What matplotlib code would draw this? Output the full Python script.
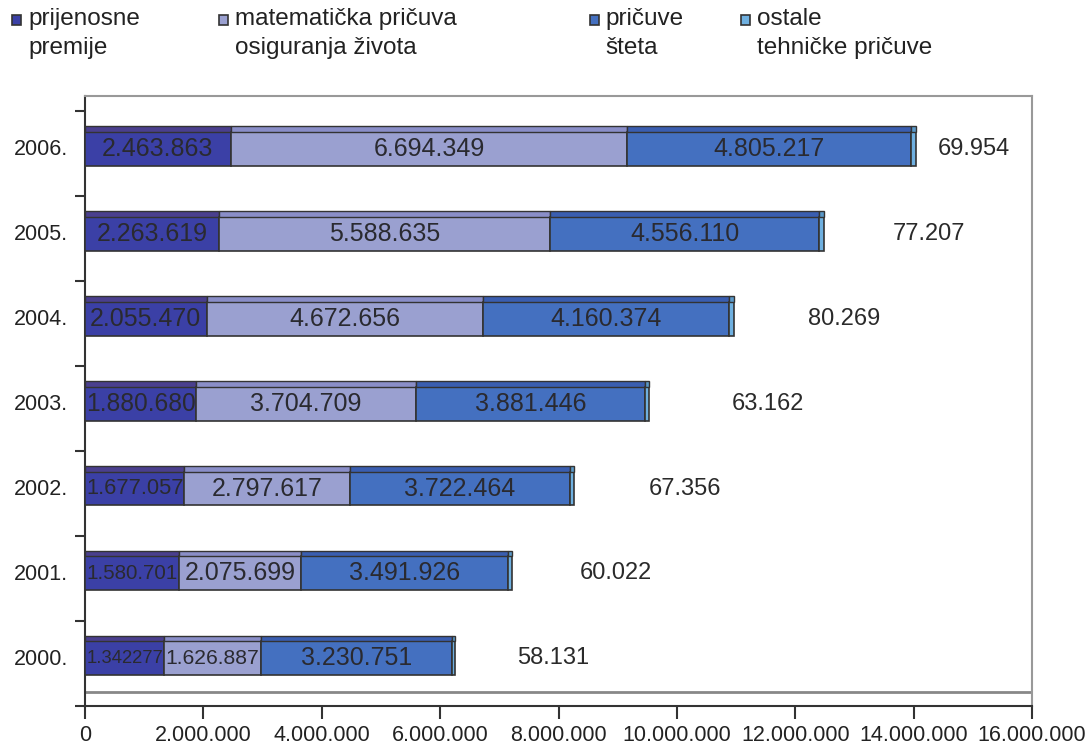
import matplotlib
matplotlib.use("Agg")
import matplotlib.pyplot as plt
from matplotlib.patches import Rectangle
import numpy as np

plt.rcParams['font.family'] = ['Liberation Sans', 'DejaVu Sans']

years = ["2000.", "2001.", "2002.", "2003.", "2004.", "2005.", "2006."]
prijenosne_premije = [1342277, 1580701, 1677057, 1880680, 2055470, 2263619, 2463863]
matematicka_pricuva = [1626887, 2075699, 2797617, 3704709, 4672656, 5588635, 6694349]
pricuve_steta = [3230751, 3491926, 3722464, 3881446, 4160374, 4556110, 4805217]
ostale_pricuve = [58131, 60022, 67356, 63162, 80269, 77207, 69954]

prijenosne_labels = ["1.342277", "1.580.701", "1.677.057", "1.880.680", "2.055.470", "2.263.619", "2.463.863"]
matematicka_labels = ["1.626.887", "2.075.699", "2.797.617", "3.704.709", "4.672.656", "5.588.635", "6.694.349"]
steta_labels = ["3.230.751", "3.491.926", "3.722.464", "3.881.446", "4.160.374", "4.556.110", "4.805.217"]
ostale_labels = ["58.131", "60.022", "67.356", "63.162", "80.269", "77.207", "69.954"]
# left edge of the "ostale" value labels (data units)
ostale_label_x = [7.30e6, 8.36e6, 9.53e6, 10.93e6, 12.21e6, 13.65e6, 14.41e6]

legend_names = ["prijenosne\npremije", "matematička pričuva\nosiguranja života",
                "pričuve\nšteta", "ostale\ntehničke pričuve"]
colors = ["#3b40a6", "#9aa0d0", "#4470c0", "#6fb0e0"]
strip_colors = ["#4a3f8e", "#8a8ec8", "#3a5eb0", "#5a98c8"]
xticks = np.arange(0, 16000001, 2000000)
xtick_labels = ["0", "2.000.000", "4.000.000", "6.000.000", "8.000.000",
                "10.000.000", "12.000.000", "14.000.000", "16.000.000"]

W, H = 1086, 754
fig = plt.figure(figsize=(W / 100, H / 100), dpi=100)
ax = fig.add_axes([85 / W, 1 - 706 / H, (1032 - 85) / W, (706 - 96) / H])
XMAX = 16000000
px_per_unit = (1032 - 85) / XMAX

series = [prijenosne_premije, matematicka_pricuva, pricuve_steta, ostale_pricuve]
y = np.arange(len(years))
main_h = 0.40
strip_h = 0.065
left = np.zeros(len(years))
for s, c, sc in zip(series, colors, strip_colors):
    vals = np.array(s, dtype=float)
    ax.barh(y - 0.02, vals, left=left, height=main_h, color=c,
            edgecolor="#333333", linewidth=1.2, zorder=3)
    ax.barh(y - 0.02 + main_h / 2 + strip_h / 2, vals, left=left, height=strip_h,
            color=sc, edgecolor="#333333", linewidth=1.0, zorder=3)
    left += vals


def ems(text):
    return sum(0.278 if ch == "." else 0.556 for ch in text)


def fit_size(text, width_px, maxsize=18.0):
    return min(maxsize, (width_px - 2) / ems(text) * 72 / 100)


starts1 = np.zeros(len(years))
starts2 = starts1 + np.array(prijenosne_premije)
starts3 = starts2 + np.array(matematicka_pricuva)
for i in range(len(years)):
    for st, v, lab in [(starts1[i], prijenosne_premije[i], prijenosne_labels[i]),
                       (starts2[i], matematicka_pricuva[i], matematicka_labels[i]),
                       (starts3[i], pricuve_steta[i], steta_labels[i])]:
        ax.text(st + v / 2, y[i] - 0.02, lab, ha="center", va="center",
                fontsize=fit_size(lab, v * px_per_unit), color="#2a2a30", zorder=4)
    ax.text(ostale_label_x[i], y[i] - 0.02, ostale_labels[i],
            ha="left", va="center", fontsize=17, color="#2a2a2a", zorder=4)

ax.set_xlim(0, XMAX)
ax.set_ylim(-0.575, 6.6)
ax.set_xticks(xticks)
ax.set_xticklabels(xtick_labels, fontsize=15.5, color="#222222")
ax.set_yticks(y)
ax.set_yticklabels(years, fontsize=15.5, color="#222222")
ax.tick_params(axis="y", length=0, pad=12)
ax.set_yticks(np.arange(-1, 7) + 0.42, minor=True)
ax.tick_params(axis="y", which="minor", length=7, width=1.5, color="#333333")
ax.tick_params(axis="x", length=9, width=1.5, color="#333333", pad=5, direction="out")

for side in ["top", "right"]:
    ax.spines[side].set_color("#999999")
    ax.spines[side].set_linewidth(1.5)
for side in ["left", "bottom"]:
    ax.spines[side].set_color("#333333")
    ax.spines[side].set_linewidth(1.5)

# floor line of 3D chart
ax.axhline(-0.575 + 14 / 85.17, color="#888888", linewidth=2.0, zorder=2)

# legend
legend_marker_x = [12, 219, 590, 741]
legend_text_x = [28, 235, 605, 757]
for name, c, mx, tx in zip(legend_names, colors, legend_marker_x, legend_text_x):
    fig.patches.append(Rectangle((mx / W, 1 - 25 / H), 9 / W, 10 / H,
                                 transform=fig.transFigure, facecolor=c,
                                 edgecolor="#333333", linewidth=1.2))
    fig.text(tx / W, 1 - 8 / H, name, ha="left", va="top",
             fontsize=17.5, color="#222222", linespacing=1.4)

fig.savefig("out.png", dpi=100)
